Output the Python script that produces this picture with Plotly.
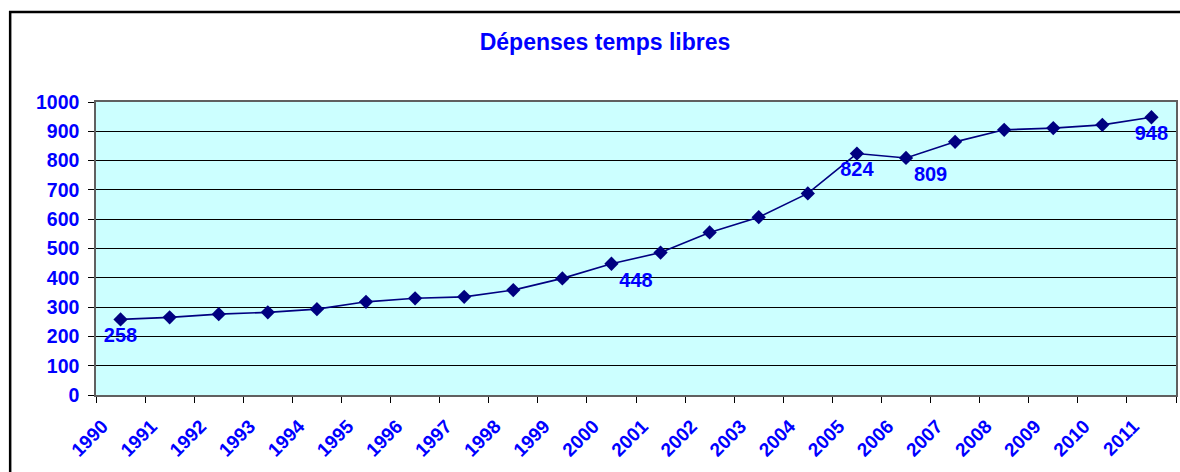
import plotly.graph_objects as go

years = [str(y) for y in range(1990, 2012)]
values = [258, 265, 276, 282, 293, 318, 330, 335, 358, 398, 448, 486,
          555, 607, 688, 824, 809, 864, 905, 911, 922, 948]
label_years = ["1990", "2000", "2005", "2006", "2011"]
label_pos = {"1990": "bottom center", "2000": "bottom right", "2005": "bottom center",
             "2006": "bottom right", "2011": "bottom center"}
y_ticks = list(range(0, 1001, 100))
title_text = "Dépenses temps libres"

texts = [str(v) if y in label_years else "" for y, v in zip(years, values)]
positions = [label_pos.get(y, "bottom center") for y in years]

FONT = "Liberation Sans, Arial, sans-serif"
BLUE = "#0000FF"
NAVY = "#000080"

fig = go.Figure()
fig.add_trace(go.Scatter(
    x=years, y=values, mode="lines+markers+text",
    line=dict(color=NAVY, width=1.6),
    marker=dict(symbol="diamond", size=11, color=NAVY),
    text=texts, textposition=positions,
    textfont=dict(family=FONT, size=20, color=BLUE, weight="bold"),
    cliponaxis=False, showlegend=False, hoverinfo="x+y",
))

fig.update_layout(
    width=1180, height=472,
    margin=dict(l=96, r=2, t=102, b=77),
    paper_bgcolor="white", plot_bgcolor="#CCFFFF",
    title=dict(text=title_text, x=605/1180, xref="container", xanchor="center",
               y=1-42/472, yref="container", yanchor="middle",
               font=dict(family=FONT, size=23, color=BLUE, weight="bold")),
    xaxis=dict(type="category", tickson="boundaries", ticks="outside", ticklen=6,
               tickcolor="#000000", tickwidth=1, showgrid=False,
               showline=True, linecolor="#606060", linewidth=1.5, mirror=True,
               tickangle=-45, ticklabelshift=-18, ticklabelstandoff=11,
               tickfont=dict(family=FONT, size=19, color=BLUE, weight="bold"),
               range=[-0.5, 21.5]),
    yaxis=dict(range=[0, 1000], tickvals=y_ticks, ticks="outside", ticklen=6,
               tickcolor="#000000", showgrid=True, gridcolor="#000000", gridwidth=1,
               showline=True, linecolor="#606060", linewidth=1.5, mirror=True,
               zeroline=False, ticklabelstandoff=5,
               tickfont=dict(family=FONT, size=19.5, color=BLUE, weight="bold")),
    shapes=[dict(type="rect", xref="paper", yref="paper",
                 x0=(10-96)/1082, x1=1.2, y0=-0.6, y1=(395-12)/293,
                 line=dict(color="black", width=2.5), fillcolor="rgba(0,0,0,0)",
                 layer="below")],
)

fig.write_html("out.html", config={"displayModeBar": False},
               post_script="document.body.style.margin='0';document.body.style.overflow='hidden';")
